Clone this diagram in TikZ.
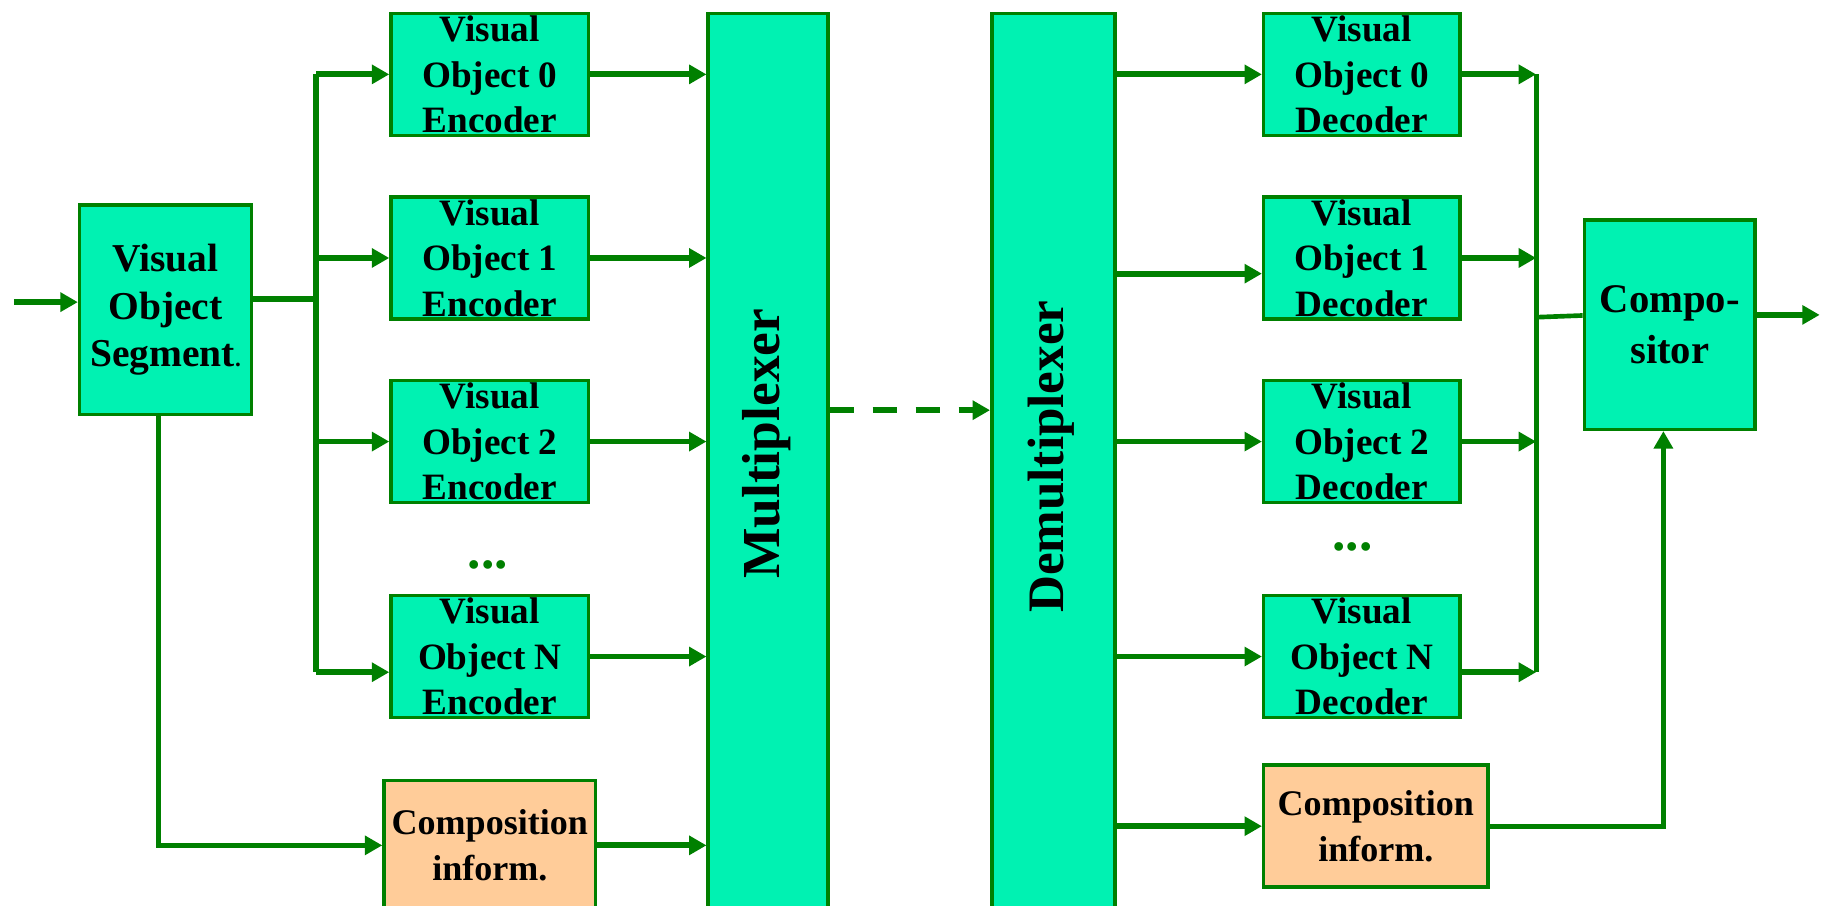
\documentclass[tikz,border=0pt]{standalone}
\usepackage{fontspec}
\setmainfont{Liberation Serif}
\usetikzlibrary{arrows.meta}
\definecolor{mint}{RGB}{0,242,178}
\definecolor{ln}{RGB}{0,128,0}
\definecolor{peach}{RGB}{255,204,153}
\begin{document}
\begin{tikzpicture}[x=1pt,y=-1pt,
  box/.style={draw=ln, line width=3pt, fill=mint, inner sep=0pt, anchor=north west, align=center,
    font=\fontsize{32}{39}\selectfont\bfseries},
  peachbox/.style={box, fill=peach},
  vbox/.style={box, minimum width=170pt, minimum height=105pt},
  conn/.style={draw=ln, line width=5pt},
  arr/.style={conn, -{Triangle[length=15pt,width=16pt]}},
  bus/.style={draw=ln, line width=4.5pt},
  biglabel/.style={rotate=90, font=\fontsize{46}{46}\selectfont\bfseries},
  dots/.style={text=ln, anchor=base, inner sep=0pt, font=\fontsize{46}{46}\selectfont\bfseries}
]
\useasboundingbox (0,0) rectangle (1568,779);
\fill[white] (0,0) rectangle (1568,779);

% left side
\node[box, minimum width=148pt, minimum height=180pt, font=\fontsize{34}{40.5}\selectfont\bfseries] (seg) at (67,175)
  {Visual\\Object\\Segment{\fontsize{20}{20}\selectfont.}};
\node[vbox] (enc0) at (335,10) {Visual\\Object 0\\Encoder};
\node[vbox] (enc1) at (335,168) {Visual\\Object 1\\Encoder};
\node[vbox] (enc2) at (335,326) {Visual\\Object 2\\Encoder};
\node[vbox] (encN) at (335,511) {Visual\\Object N\\Encoder};
\node[dots] (dotsL) at (420,489) {...};
\node[peachbox, minimum width=182pt, minimum height=112pt, font=\fontsize{31}{40}\selectfont\bfseries] (compL) at (329,670)
  {Composition\\inform.};
\node[box, minimum width=103pt, minimum height=780pt] (mux) at (608,10) {};
\node[biglabel] (muxlabel) at (660,382) {Multiplexer};

% right side
\node[box, minimum width=106pt, minimum height=780pt] (demux) at (852,10) {};
\node[biglabel, font=\fontsize{44}{44}\selectfont\bfseries] (demuxlabel) at (905,393) {Demultiplexer};
\node[vbox, minimum width=169pt] (dec0) at (1086,10) {Visual\\Object 0\\Decoder};
\node[vbox, minimum width=169pt] (dec1) at (1086,168) {Visual\\Object 1\\Decoder};
\node[vbox, minimum width=169pt] (dec2) at (1086,326) {Visual\\Object 2\\Decoder};
\node[vbox, minimum width=169pt] (decN) at (1086,511) {Visual\\Object N\\Decoder};
\node[dots] (dotsR) at (1164,474) {...};
\node[peachbox, minimum width=193pt, minimum height=105pt, font=\fontsize{31}{40}\selectfont\bfseries] (compR) at (1086,657)
  {Composition\\inform.};
\node[box, minimum width=147pt, minimum height=180pt, font=\fontsize{35}{44}\selectfont\bfseries] (comp) at (1362,188)
  {Compo-\\sitor};

% coordinates
\coordinate (in) at (12,260);
\coordinate (sbus) at (272,257);
\coordinate (encNin) at ([yshift=-13.5pt]encN.west);
\coordinate (dm) at (0,353);
\coordinate (dec1in) at ([yshift=-13.5pt]dec1.west);
\coordinate (decNout) at ([yshift=-13.5pt]decN.east);
\coordinate (dbus) at (1322,273);
\coordinate (out) at (1566,271);

% left connectors
\draw[arr] (in) -- (seg.west |- in);
\draw[conn] (seg.east |- sbus) -- (sbus);
\draw[bus] (sbus |- enc0.west) -- (sbus |- encNin);
\draw[arr] (sbus |- enc0.west) -- (enc0.west);
\draw[arr] (sbus |- enc1.west) -- (enc1.west);
\draw[arr] (sbus |- enc2.west) -- (enc2.west);
\draw[arr] (sbus |- encNin) -- (encNin);
\draw[arr] (enc0.east) -- (mux.west |- enc0.east);
\draw[arr] (enc1.east) -- (mux.west |- enc1.east);
\draw[arr] (enc2.east) -- (mux.west |- enc2.east);
\draw[arr] (encN.east) -- (mux.west |- encN.east);
\draw[arr, line width=4.5pt] ([xshift=-6pt]seg.south) |- (compL.west);
\draw[arr] (compL.east) -- (mux.west |- compL.east);

% middle
\draw[arr, dash pattern=on 21pt off 16pt] (mux.east |- dm) -- (demux.west |- dm);

% right connectors
\draw[arr] (demux.east |- dec0.west) -- (dec0.west);
\draw[arr] (demux.east |- dec1in) -- (dec1in);
\draw[arr] (demux.east |- dec2.west) -- (dec2.west);
\draw[arr] (demux.east |- decN.west) -- (decN.west);
\draw[arr] (demux.east |- compR.west) -- (compR.west);
\draw[arr] (dec0.east) -- (dbus |- dec0.east);
\draw[arr] (dec1.east) -- (dbus |- dec1.east);
\draw[arr] (dec2.east) -- (dbus |- dec2.east);
\draw[arr] (decNout) -- (dbus |- decNout);
\draw[bus] (dbus |- dec0.east) -- (dbus |- decNout);
\draw[conn, line width=4pt] (dbus) -- ([yshift=8pt]comp.west);
\draw[arr] (comp.east |- out) -- (out);
\draw[arr, line width=4.5pt] (compR.east) -| ([xshift=-5.5pt]comp.south);
\end{tikzpicture}
\end{document}
